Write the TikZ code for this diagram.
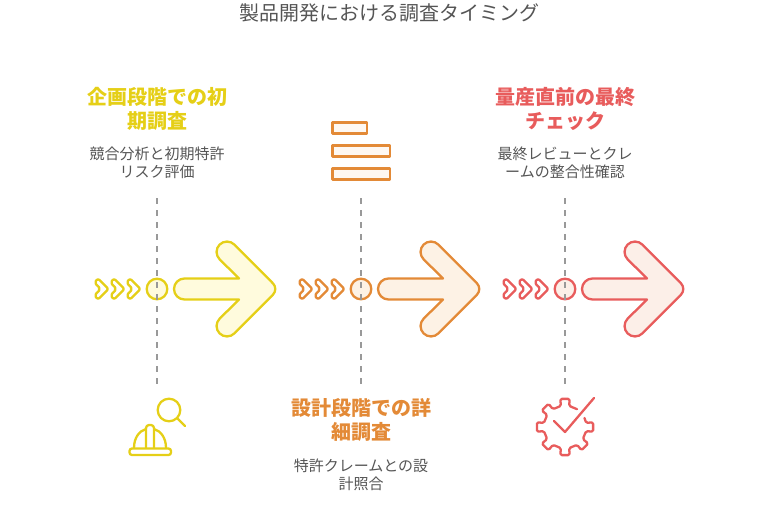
\documentclass[tikz,border=0pt]{standalone}
\usepackage{fontspec}
\newfontfamily\cjk{Noto Sans CJK JP}
\definecolor{jaune}{HTML}{E5CF17}
\definecolor{jauneclair}{HTML}{FFFBDD}
\definecolor{orange}{HTML}{E38A37}
\definecolor{orangeclair}{HTML}{FDF2E5}
\definecolor{rouge}{HTML}{E85C5C}
\definecolor{rougeclair}{HTML}{FCEFE8}
\definecolor{gristexte}{HTML}{555555}
\tikzset{
    titre/.style={font=\cjk\bfseries\fontsize{20}{24}\selectfont,align=center,inner sep=0pt},
    soustitre/.style={font=\cjk\fontsize{15}{18}\selectfont,text=gristexte,align=center,inner sep=0pt},
    trait/.style={line width=2.3pt,line join=round,line cap=round},
    repere/.style={line width=2pt,gray!80,dash pattern=on 6pt off 6pt}
}
\begin{document}
\begin{tikzpicture}[x=1pt,y=-1pt]
    \useasboundingbox (0,0) rectangle (778,530);

    % Titre
    \node[font=\cjk\fontsize{20}{24}\selectfont,text=gristexte,inner sep=0pt] (entete) at (389,13) {製品開発における調査タイミング};

    % Les trois étapes
    \foreach \dx/\coul/\clair in {0/jaune/jauneclair,204/orange/orangeclair,408/rouge/rougeclair} {
        \begin{scope}[xshift=\dx pt]
            % Chevrons
            \foreach \c in {0,16,32} {
                \draw[trait,\coul,rounded corners=2pt,fill=white] (94.5+\c,282.5) -- (98+\c,278.5) -- (108.5+\c,289) -- (98+\c,299.5) -- (94.5+\c,295.5) -- (100.5+\c,289) -- cycle;
            }
            % Grande flèche
            \draw[trait,\coul,fill=\clair] (174,289) [rounded corners=10.5pt] -- (174,278.5) [sharp corners] -- (239,278.5) [rounded corners=10.5pt] -- (212.2,252) -- (227,237.2) [rounded corners=8pt] -- (278.6,289) [rounded corners=10.5pt] -- (227,340.8) -- (212.2,326) [sharp corners] -- (239,299.5) [rounded corners=10.5pt] -- (174,299.5) -- (174,289);
            % Cercle et repère
            \draw[trait,\coul,fill=\clair] (157,289) circle (10.3);
            \draw[repere] (156.5,198) -- (156.5,386);
        \end{scope}
    }

    % Textes
    \node[titre,text=jaune] (etape1) at (157,109.3) {企画段階での初\\期調査};
    \node[soustitre] (detail1) at (157,163) {競合分析と初期特許\\リスク評価};
    \node[titre,text=orange] (etape2) at (361,420.3) {設計段階での詳\\細調査};
    \node[soustitre] (detail2) at (361,475) {特許クレームとの設\\計照合};
    \node[titre,text=rouge] (etape3) at (565,109.3) {量産直前の最終\\チェック};
    \node[soustitre] (detail3) at (565,163) {最終レビューとクレ\\ームの整合性確認};

    % Icône casque et loupe
    \draw[trait,jaune] (169,410) circle (11.3);
    \draw[trait,jaune] (177.5,418.5) -- (185,426);
    \draw[trait,jaune,rounded corners=2.5pt] (129.5,448.5) rectangle (171,455);
    \draw[trait,jaune] (134,448) .. controls (134,438) and (139,431) .. (146,429);
    \draw[trait,jaune] (166,448) .. controls (166,438) and (161,431) .. (154,429);
    \draw[trait,jaune,rounded corners=3pt] (146,448) -- (146,425) -- (154,425) -- (154,448);

    % Icône liste
    \draw[trait,orange,fill=orangeclair!50] (332.5,122.5) rectangle (367,133.5);
    \draw[trait,orange,fill=orangeclair!50] (332.5,145.5) rectangle (390,156.5);
    \draw[trait,orange,fill=orangeclair!50] (332.5,168.5) rectangle (390,179.5);

    % Icône engrenage
    \begin{scope}[shift={(565,427)}]
        \draw[trait,rouge,rounded corners=1.5pt] (-25:21.5)
            foreach \a in {0,45,90,135,180,225,270} { -- (\a-11:21.5) -- (\a-9.5:28.5) -- (\a+9.5:28.5) -- (\a+11:21.5) }
            -- (304:21.5);
        \draw[trait,rouge] (-11,-6) -- (0,5) -- (29,-29);
    \end{scope}
\end{tikzpicture}
\end{document}
